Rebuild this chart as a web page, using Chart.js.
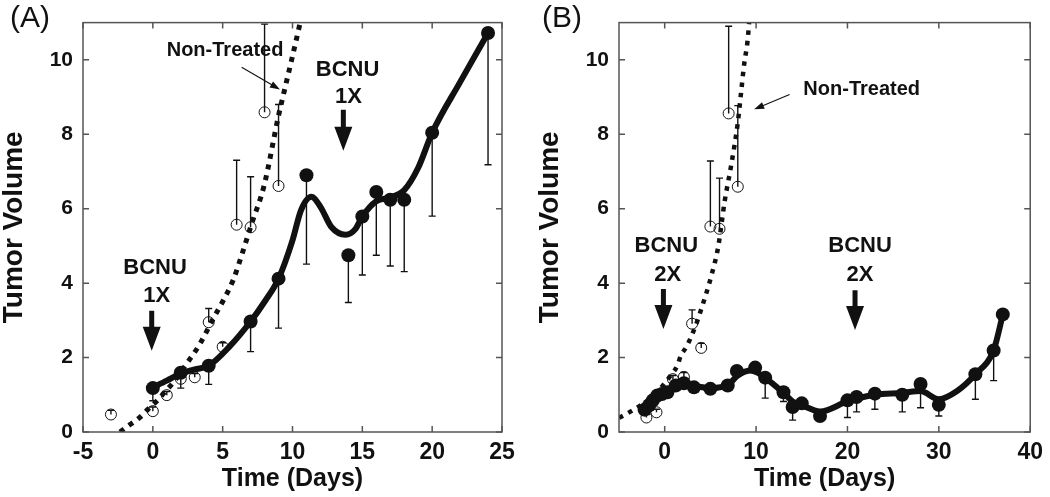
<!DOCTYPE html>
<html>
<head>
    <title>Tumor Volume</title>
    <meta charset="utf-8">
    <script src="https://cdn.jsdelivr.net/npm/chart.js"></script>
    <style>
        body { margin: 0; background: #fff; }
        .panel { position: absolute; top: 0; width: 525px; height: 497px; }
    </style>
</head>
<body>
    <div class="panel" style="left:0"><canvas id="chartA"></canvas></div>
    <div class="panel" style="left:525px"><canvas id="chartB"></canvas></div>
    <script>
        // ---- panel A: single BCNU dose ----
        const aCtrlDay = [-3, 0, 1, 2, 3, 4, 5, 6, 7, 8, 9];
        const aCtrlVol = [0.47, 0.56, 0.99, 1.43, 1.47, 2.95, 2.29, 5.57, 5.50, 8.59, 6.61];
        const aCtrlErr = [0.11, 0.11, 0.10, 0.10, 0.10, 0.37, 0.11, 1.73, 1.36, 2.37, 2.19];

        const aBcnuDay = [0, 2, 4, 7, 9, 11, 14, 15, 16, 17, 18, 20, 24];
        const aBcnuVol = [1.18, 1.59, 1.78, 2.97, 4.12, 6.90, 4.75, 5.79, 6.45, 6.24, 6.24, 8.04, 10.72];
        const aBcnuErr = [0.34, 0.41, 0.50, 0.81, 1.33, 2.39, 1.27, 1.57, 1.70, 1.78, 1.93, 2.24, 3.54];

        // fitted curves
        const aCtrlFitDay = [-2.35, -1.63, -0.97, -0.37, 0.35, 0.94, 1.47, 2.43, 3.33, 4.33, 5.05, 5.76, 6.36, 7.08, 7.96, 9.0, 9.5, 10.0, 10.55, 10.9];
        const aCtrlFitVol = [0, 0.2, 0.38, 0.6, 0.86, 1.11, 1.33, 1.84, 2.34, 3.05, 3.54, 4.09, 4.75, 5.6, 6.61, 8.5, 9.3, 10.1, 11.0, 11.6];
        const aBcnuFitDay = [0, 1, 2, 3, 4, 5.5, 7, 8, 9, 10, 10.6, 11.35, 12, 12.8, 13.8, 14.5, 15, 16, 17, 18, 19, 20, 22, 24];
        const aBcnuFitVol = [1.2, 1.38, 1.57, 1.68, 1.78, 2.3, 2.97, 3.5, 4.12, 5.15, 5.95, 6.32, 6.05, 5.5, 5.3, 5.45, 5.79, 6.2, 6.3, 6.5, 7.1, 8.04, 9.4, 10.72];

        // ---- panel B: BCNU 2X, two doses ----
        const bCtrlDay = [-2, -0.9, 0.9, 2.1, 3, 4, 5, 6, 7, 8];
        const bCtrlVol = [0.39, 0.53, 1.42, 1.48, 2.91, 2.26, 5.52, 5.46, 8.56, 6.59];
        const bCtrlErr = [0.08, 0.08, 0.10, 0.12, 0.37, 0.12, 1.76, 1.36, 2.34, 2.18];

        const bBcnuDay = [-2.2, -1.7, -1.3, -0.8, -0.3, 0.3, 1.2, 2.1, 3.2, 5, 6.9, 7.9, 9.9, 11, 13, 14, 15, 17, 20, 21, 23, 26, 28, 30, 34, 36, 37];
        const bBcnuVol = [0.6, 0.72, 0.85, 0.98, 1.02, 1.07, 1.25, 1.31, 1.2, 1.16, 1.25, 1.64, 1.73, 1.46, 1.07, 0.67, 0.77, 0.43, 0.85, 0.94, 1.03, 1.0, 1.29, 0.73, 1.55, 2.19, 3.16];
        const bBcnuErr = [0, 0, 0, 0, 0, 0, 0, 0, 0, 0, 0, 0, 0.15, 0.55, 0.25, 0.35, 0, 0, 0.46, 0.40, 0.42, 0.46, 0.64, 0.30, 0.67, 0.81, 0];

        const bCtrlFitDay = [-5, -3.8, -2, -1, 0, 0.75, 1.4, 1.75, 2.4, 3.3, 4.0, 5.14, 5.86, 6.57, 7.28, 8.0, 8.35, 8.7, 9.07, 9.3];
        const bCtrlFitVol = [0.38, 0.54, 0.82, 1.02, 1.31, 1.55, 1.79, 2.04, 2.3, 2.8, 3.3, 4.23, 4.98, 6.21, 7.17, 8.31, 9.1, 9.89, 10.51, 11.2];
        const bBcnuFitDay = [-2.3, -1, 0, 1, 2, 3, 5, 7, 8, 9.5, 11, 13, 14, 15, 17, 20, 23, 26, 28, 30, 32, 34, 36, 37];
        const bBcnuFitVol = [0.6, 0.9, 1.05, 1.2, 1.3, 1.25, 1.18, 1.28, 1.52, 1.65, 1.45, 1.05, 0.82, 0.72, 0.55, 0.82, 1.0, 1.05, 1.1, 0.88, 1.1, 1.55, 2.2, 3.15];

        const INK = '#111';
        const FRAME = '#555';
        const FONT = '"Liberation Sans", Arial, Helvetica, sans-serif';

        const pts = (xs, ys) => xs.map((x, i) => ({ x: x, y: ys[i] }));

        function datasets(ctrlDay, ctrlVol, ctrlErr, bcnuDay, bcnuVol, bcnuErr, cFitDay, cFitVol, bFitDay, bFitVol, dotW) {
            return [
                { data: pts(bcnuDay, bcnuVol), err: bcnuErr, errSign: -1, showLine: false,
                  pointRadius: 7, pointBackgroundColor: INK, pointBorderColor: INK, pointBorderWidth: 0, order: 1 },
                { data: pts(ctrlDay, ctrlVol), err: ctrlErr, errSign: 1, showLine: false,
                  pointRadius: 5.5, pointBackgroundColor: 'rgba(0,0,0,0)', pointBorderColor: INK, pointBorderWidth: 1, order: 2 },
                { data: pts(bFitDay, bFitVol), showLine: true, pointRadius: 0, borderColor: INK,
                  borderWidth: 6, cubicInterpolationMode: 'monotone', order: 3 },
                { data: pts(cFitDay, cFitVol), showLine: true, pointRadius: 0, borderColor: INK,
                  borderWidth: dotW, borderDash: [dotW, 6], borderCapStyle: 'butt', cubicInterpolationMode: 'monotone', order: 4 }
            ];
        }

        const decor = {
            id: 'decor',
            afterDatasetsDraw(chart) {
                const { ctx, chartArea: a, scales: { x, y } } = chart;
                ctx.save();
                ctx.beginPath();
                ctx.rect(a.left, a.top - 2, a.right - a.left, a.bottom - a.top + 2);
                ctx.clip();
                ctx.strokeStyle = INK;
                ctx.lineWidth = 1.4;
                chart.data.datasets.forEach(ds => {
                    if (!ds.err) return;
                    ds.data.forEach((p, i) => {
                        const e = ds.err[i];
                        if (!e) return;
                        const px = x.getPixelForValue(p.x);
                        const y0 = y.getPixelForValue(p.y);
                        const y1 = y.getPixelForValue(p.y + ds.errSign * e);
                        ctx.beginPath();
                        ctx.moveTo(px, y0); ctx.lineTo(px, y1);
                        ctx.moveTo(px - 3.5, y1); ctx.lineTo(px + 3.5, y1);
                        ctx.stroke();
                    });
                });
                ctx.restore();
            },
            afterDraw(chart, args, o) {
                const { ctx, chartArea: a, scales: { x, y } } = chart;
                ctx.save();
                // frame with inward ticks
                ctx.strokeStyle = FRAME;
                ctx.lineWidth = 1.5;
                ctx.strokeRect(a.left, a.top, a.right - a.left, a.bottom - a.top);
                ctx.beginPath();
                x.ticks.forEach(t => {
                    const px = x.getPixelForValue(t.value);
                    ctx.moveTo(px, a.bottom); ctx.lineTo(px, a.bottom - 6);
                    ctx.moveTo(px, a.top); ctx.lineTo(px, a.top + 6);
                });
                y.ticks.forEach(t => {
                    const py = y.getPixelForValue(t.value);
                    ctx.moveTo(a.left, py); ctx.lineTo(a.left + 6, py);
                    ctx.moveTo(a.right, py); ctx.lineTo(a.right - 6, py);
                });
                ctx.stroke();

                // annotation texts
                ctx.fillStyle = INK;
                ctx.textAlign = 'center';
                ctx.textBaseline = 'middle';
                o.texts.forEach(t => {
                    ctx.font = 'bold ' + t.size + 'px ' + FONT;
                    ctx.fillText(t.text, x.getPixelForValue(t.x), y.getPixelForValue(t.y));
                });

                // thick dose arrows
                o.arrows.forEach(ar => {
                    const px = x.getPixelForValue(ar.x);
                    const top = y.getPixelForValue(ar.from);
                    const tip = y.getPixelForValue(ar.to);
                    const head = tip - 24;
                    ctx.beginPath();
                    ctx.moveTo(px - 2.5, top); ctx.lineTo(px + 2.5, top);
                    ctx.lineTo(px + 2.5, head); ctx.lineTo(px + 9, head);
                    ctx.lineTo(px, tip); ctx.lineTo(px - 9, head);
                    ctx.lineTo(px - 2.5, head); ctx.closePath();
                    ctx.fill();
                });

                // thin pointer arrows
                o.pointers.forEach(p => {
                    const x1 = x.getPixelForValue(p.x1), y1 = y.getPixelForValue(p.y1);
                    const x2 = x.getPixelForValue(p.x2), y2 = y.getPixelForValue(p.y2);
                    const ang = Math.atan2(y2 - y1, x2 - x1);
                    ctx.strokeStyle = INK;
                    ctx.lineWidth = 1.1;
                    ctx.beginPath();
                    ctx.moveTo(x1, y1);
                    ctx.lineTo(x2 - 8 * Math.cos(ang), y2 - 8 * Math.sin(ang));
                    ctx.stroke();
                    ctx.beginPath();
                    ctx.moveTo(x2, y2);
                    ctx.lineTo(x2 - 10 * Math.cos(ang) + 3.5 * Math.sin(ang), y2 - 10 * Math.sin(ang) - 3.5 * Math.cos(ang));
                    ctx.lineTo(x2 - 10 * Math.cos(ang) - 3.5 * Math.sin(ang), y2 - 10 * Math.sin(ang) + 3.5 * Math.cos(ang));
                    ctx.closePath();
                    ctx.fill();
                });

                // panel letter
                ctx.textAlign = 'left';
                ctx.textBaseline = 'alphabetic';
                ctx.font = '30px ' + FONT;
                ctx.fillText(o.label.text, o.label.left, o.label.base);
                ctx.restore();
            }
        };

        function axisScales(xMin, xMax, xStep, yWidth, yTitlePad) {
            return {
                x: {
                    type: 'linear', min: xMin, max: xMax,
                    ticks: { stepSize: xStep, includeBounds: false, autoSkip: false, maxRotation: 0,
                             padding: 7, color: INK, font: { family: FONT, size: 23, weight: 'bold' } },
                    grid: { display: false, drawTicks: false },
                    border: { display: false },
                    title: { display: true, text: 'Time (Days)', color: INK,
                             font: { family: FONT, size: 25, weight: 'bold', lineHeight: 1 },
                             padding: { top: 0, bottom: 5 } },
                    afterFit: s => { s.height = 65; }
                },
                y: {
                    type: 'linear', min: 0, max: 11,
                    ticks: { stepSize: 2, includeBounds: false, padding: 10, color: INK,
                             font: { family: FONT, size: 21, weight: 'bold' } },
                    grid: { display: false, drawTicks: false },
                    border: { display: false },
                    title: { display: true, text: 'Tumor Volume', color: INK,
                             font: { family: FONT, size: 28, weight: 'bold', lineHeight: 1 },
                             padding: { top: yTitlePad, bottom: 0 } },
                    afterFit: s => { s.width = yWidth; }
                }
            };
        }

        new Chart(document.getElementById('chartA'), {
            type: 'scatter',
            data: { datasets: datasets(aCtrlDay, aCtrlVol, aCtrlErr, aBcnuDay, aBcnuVol, aBcnuErr,
                                       aCtrlFitDay, aCtrlFitVol, aBcnuFitDay, aBcnuFitVol, 5) },
            options: {
                responsive: true, maintainAspectRatio: false, animation: false, events: [],
                layout: { padding: { top: 14, right: 23, left: 0, bottom: 0 } },
                scales: axisScales(-5, 25, 5, 83, 0),
                plugins: {
                    legend: { display: false }, tooltip: { enabled: false },
                    decor: {
                        label: { text: '(A)', left: 10, base: 27 },
                        texts: [
                            { text: 'Non-Treated', x: 5.17, y: 10.24, size: 20 },
                            { text: 'BCNU', x: 0.16, y: 4.4, size: 22 },
                            { text: '1X', x: 0.28, y: 3.66, size: 22 },
                            { text: 'BCNU', x: 13.94, y: 9.73, size: 22 },
                            { text: '1X', x: 14.0, y: 8.99, size: 22 }
                        ],
                        arrows: [
                            { x: -0.08, from: 3.26, to: 2.18 },
                            { x: 13.64, from: 8.66, to: 7.56 }
                        ],
                        pointers: [
                            { x1: 6.36, y1: 9.8, x2: 9.1, y2: 9.2 }
                        ]
                    }
                }
            },
            plugins: [decor]
        });

        new Chart(document.getElementById('chartB'), {
            type: 'scatter',
            data: { datasets: datasets(bCtrlDay, bCtrlVol, bCtrlErr, bBcnuDay, bBcnuVol, bBcnuErr,
                                       bCtrlFitDay, bCtrlFitVol, bBcnuFitDay, bBcnuFitVol, 4.5) },
            options: {
                responsive: true, maintainAspectRatio: false, animation: false, events: [],
                layout: { padding: { top: 15, right: 12, left: 0, bottom: 0 } },
                scales: axisScales(-5, 40, 10, 94, 11),
                plugins: {
                    legend: { display: false }, tooltip: { enabled: false },
                    decor: {
                        label: { text: '(B)', left: 17, base: 27 },
                        texts: [
                            { text: 'Non-Treated', x: 21.56, y: 9.19, size: 20 },
                            { text: 'BCNU', x: 0.18, y: 5.0, size: 22 },
                            { text: '2X', x: 0.32, y: 4.23, size: 22 },
                            { text: 'BCNU', x: 21.38, y: 5.0, size: 22 },
                            { text: '2X', x: 21.38, y: 4.23, size: 22 }
                        ],
                        arrows: [
                            { x: -0.14, from: 3.84, to: 2.77 },
                            { x: 20.83, from: 3.81, to: 2.74 }
                        ],
                        pointers: [
                            { x1: 13.67, y1: 9.07, x2: 9.79, y2: 8.67 }
                        ]
                    }
                }
            },
            plugins: [decor]
        });
    </script>
</body>
</html>
